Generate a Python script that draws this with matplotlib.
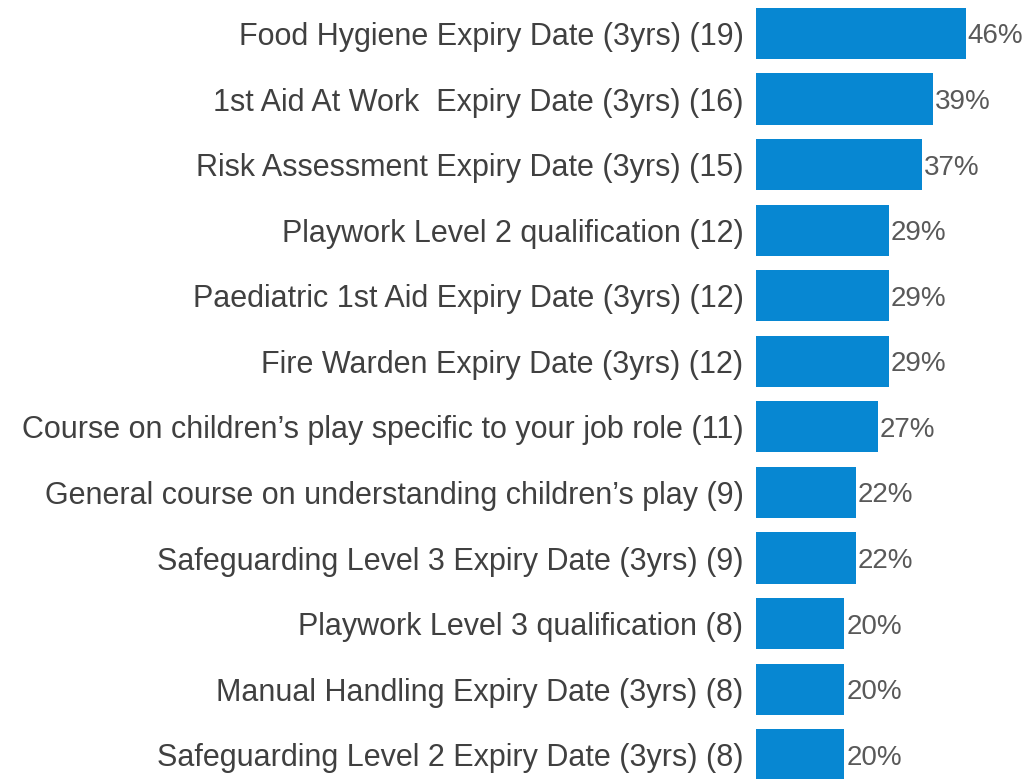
import matplotlib.pyplot as plt
import numpy as np

plt.rcParams['font.family'] = ['Liberation Sans', 'DejaVu Sans']

# courses, top to bottom
labels = [
    'Food Hygiene Expiry Date (3yrs) (19)',
    '1st Aid At Work  Expiry Date (3yrs) (16)',
    'Risk Assessment Expiry Date (3yrs) (15)',
    'Playwork Level 2 qualification (12)',
    'Paediatric 1st Aid Expiry Date (3yrs) (12)',
    'Fire Warden Expiry Date (3yrs) (12)',
    'Course on children\u2019s play specific to your job role (11)',
    'General course on understanding children\u2019s play (9)',
    'Safeguarding Level 3 Expiry Date (3yrs) (9)',
    'Playwork Level 3 qualification (8)',
    'Manual Handling Expiry Date (3yrs) (8)',
    'Safeguarding Level 2 Expiry Date (3yrs) (8)',
]
pct = [46.3, 39.0, 36.6, 29.3, 29.3, 29.3, 26.8, 22.0, 22.0, 19.5, 19.5, 19.5]

fig = plt.figure(figsize=(10.25, 7.79), dpi=100)
ax = fig.add_axes([756 / 1025, 0, 1 - 756 / 1025, 1])

y = np.arange(len(labels))
ax.barh(y, pct, height=0.78, color='#0787D2')
for yi, v in zip(y, pct):
    ax.text(v + 0.4, yi, '%d%%' % round(v), va='center_baseline', ha='left',
            fontsize=20, color='#595959')

ax.set_yticks(y)
ax.set_yticklabels(labels, fontsize=22, color='#404040')
ax.tick_params(axis='y', length=0, pad=9)
ax.set_xticks([])
ax.set_xlim(0, 59.3)
ax.set_ylim(11.37, -0.51)
for s in ax.spines.values():
    s.set_visible(False)

plt.savefig('out.png')
